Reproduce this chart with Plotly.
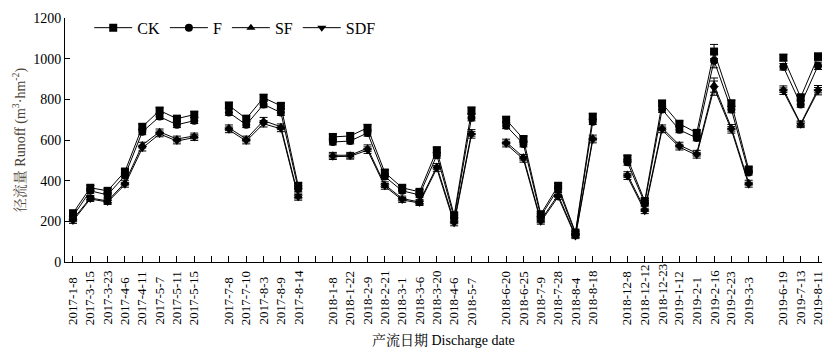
import plotly.graph_objects as go

groups = [
    ["2017-1-8", "2017-3-15", "2017-3-23", "2017-4-6", "2017-4-11", "2017-5-7", "2017-5-11", "2017-5-15"],
    ["2017-7-8", "2017-7-10", "2017-8-3", "2017-8-9", "2017-8-14"],
    ["2018-1-8", "2018-1-22", "2018-2-9", "2018-2-21", "2018-3-1", "2018-3-6", "2018-3-20", "2018-4-6", "2018-5-7"],
    ["2018-6-20", "2018-6-25", "2018-7-9", "2018-7-28", "2018-8-4", "2018-8-18"],
    ["2018-12-8", "2018-12-12", "2018-12-23", "2019-1-12", "2019-2-1", "2019-2-16", "2019-2-23", "2019-3-3"],
    ["2019-6-19", "2019-7-13", "2019-8-11"],
]

CK = [[240, 365, 350, 445, 665, 745, 705, 725],
      [770, 705, 808, 768, 375],
      [615, 620, 660, 440, 365, 345, 550, 230, 745],
      [700, 605, 235, 375, 145, 715],
      [510, 300, 780, 680, 635, 1035, 780, 455],
      [1005, 810, 1010]]
F = [[225, 350, 330, 425, 640, 715, 675, 695],
     [735, 675, 775, 735, 360],
     [590, 595, 635, 420, 350, 330, 525, 218, 710],
     [670, 580, 225, 360, 140, 690],
     [490, 290, 750, 650, 610, 990, 750, 440],
     [960, 775, 965]]
SF = [[210, 315, 300, 390, 575, 640, 605, 620],
      [660, 605, 695, 665, 325],
      [525, 525, 560, 380, 312, 295, 470, 200, 635],
      [590, 515, 205, 330, 130, 610],
      [430, 260, 660, 575, 535, 870, 660, 390],
      [850, 680, 850]]
SDF = [[202, 310, 295, 380, 560, 630, 595, 612],
       [650, 595, 680, 655, 318],
       [518, 520, 550, 372, 305, 290, 460, 190, 625],
       [580, 505, 198, 320, 125, 600],
       [420, 250, 650, 565, 525, 855, 650, 380],
       [840, 675, 840]]
ERR = [[12, 12, 12, 12, 14, 14, 14, 14],
       [14, 14, 16, 14, 14],
       [14, 14, 16, 14, 12, 12, 14, 12, 16],
       [14, 14, 12, 12, 10, 14],
       [14, 12, 14, 14, 14, 35, 16, 12],
       [16, 14, 18]]

series = [("CK", CK, "square"), ("F", F, "circle"),
          ("SF", SF, "triangle-up"), ("SDF", SDF, "triangle-down")]

# slot positions with one empty (tick-only) slot between groups
positions = []
labels_x, labels_t = [], []
pos = 0
for gi, g in enumerate(groups):
    gp = []
    for lab in g:
        gp.append(pos)
        labels_x.append(pos)
        labels_t.append(lab)
        pos += 1
    positions.append(gp)
    if gi < len(groups) - 1:
        pos += 1
all_ticks = list(range(pos))

fig = go.Figure()
for name, data, sym in series:
    xs, ys, es = [], [], []
    for gi in range(len(groups)):
        xs += positions[gi] + [None]
        ys += data[gi] + [None]
        es += ERR[gi] + [None]
    fig.add_trace(go.Scatter(
        x=xs, y=ys, name=name, mode="lines+markers",
        line=dict(color="black", width=1),
        marker=dict(symbol=sym, size=8, color="black"),
        error_y=dict(type="data", array=es, color="black", thickness=1, width=4),
        connectgaps=False,
    ))

font_family = "Liberation Serif, 'Noto Serif CJK SC', 'Noto Sans CJK SC', serif"
xr = [-0.46, pos - 1 + 0.23]

# bottom-aligned rotated date labels (as in the original figure)
annotations = []
for xv, t in zip(labels_x, labels_t):
    annotations.append(dict(
        x=xv, y=-0.262, xref="x", yref="paper", text=t, textangle=-90,
        showarrow=False, xanchor="center", yanchor="bottom",
        font=dict(size=13, family=font_family, color="black"), borderpad=0,
    ))
annotations.append(dict(
    x=0.5, y=-0.32, xref="paper", yref="paper", text="产流日期 Discharge date",
    showarrow=False, xanchor="center", yanchor="middle",
    font=dict(size=14, family=font_family, color="black"),
))

fig.update_layout(
    width=833, height=354,
    margin=dict(l=65, r=11, t=18, b=92),
    plot_bgcolor="white", paper_bgcolor="white",
    font=dict(family=font_family, size=13, color="black"),
    showlegend=True,
    legend=dict(orientation="h", x=0.032, y=0.96, xanchor="left", yanchor="middle",
                font=dict(size=16), bgcolor="rgba(0,0,0,0)", itemwidth=38, tracegroupgap=0),
    xaxis=dict(
        range=xr, tickvals=all_ticks, showticklabels=False,
        ticks="inside", ticklen=6, tickcolor="black",
        showline=True, linecolor="black", linewidth=1, showgrid=False, zeroline=False,
        automargin=False,
    ),
    yaxis=dict(
        range=[0, 1200], tickvals=[0, 200, 400, 600, 800, 1000, 1200],
        ticks="inside", ticklen=5, tickcolor="black",
        showline=True, linecolor="black", linewidth=1, showgrid=False, zeroline=False,
        tickfont=dict(size=14), automargin=False,
        title=dict(text="径流量 Runoff (m<sup>3</sup>·hm<sup>-2</sup>)", font=dict(size=14, color="#4a3f35"), standoff=4),
    ),
    annotations=annotations,
)

fig.write_html("out.html")
